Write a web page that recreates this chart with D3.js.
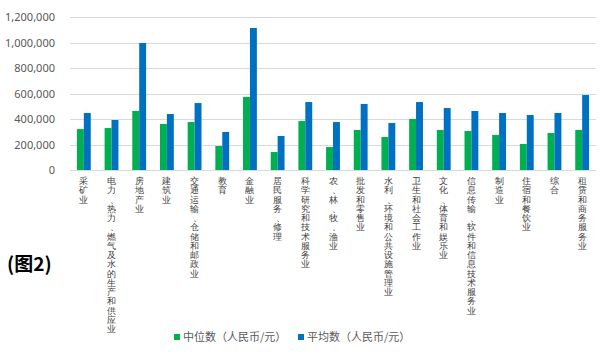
<!DOCTYPE html>
<html><head><meta charset="utf-8">
<script src="https://cdn.jsdelivr.net/npm/d3@7"></script>
<style>
body{margin:0;background:#fff;}
svg{font-family:"Noto Sans CJK SC","Noto Sans",sans-serif;}
</style></head>
<body><svg id="c" width="602" height="354"></svg>
<script>
const categories = ["采矿业","电力、热力、燃气及水的生产和供应业","房地产业","建筑业","交通运输、仓储和邮政业","教育","金融业","居民服务、修理","科学研究和技术服务业","农、林、牧、渔业","批发和零售业","水利、环境和公共设施管理业","卫生和社会工作业","文化、体育和娱乐业","信息传输、软件和信息技术服务业","制造业","住宿和餐饮业","综合","租赁和商务服务业"];
const medianValues = [321000,329000,463000,361000,376000,188000,573000,141000,384000,180000,314000,259000,400000,314000,306000,275000,204000,290000,314000];
const meanValues = [447000,392000,996000,439000,525000,298000,1114000,267000,533000,376000,518000,369000,533000,486000,463000,447000,431000,447000,588000];
const yTicks = [0,200000,400000,600000,800000,1000000,1200000];
const seriesNames = ["中位数（人民币/元）","平均数（人民币/元）"];
const colors = ["#00B050","#0070C0"];
const figLabel = "(图2)";

const svg = d3.select("#c");
const L=70, R=596, T=17, B=170;
const x = d3.scaleBand().domain(categories).range([L,R]).paddingInner(0.5).paddingOuter(0.25);
const xs = d3.scaleBand().domain([0,1]).range([0,x.bandwidth()]);
const y = d3.scaleLinear().domain([0,1200000]).range([B,T]);

// gridlines
svg.append("g").selectAll("line").data(yTicks).join("line")
  .attr("x1",L).attr("x2",R).attr("y1",d=>Math.round(y(d))+0.5).attr("y2",d=>Math.round(y(d))+0.5)
  .attr("stroke","#D9D9D9").attr("stroke-width",1);

// y axis labels
const ya = svg.append("g").attr("transform",`translate(${L},0)`)
  .call(d3.axisLeft(y).tickValues(yTicks).tickFormat(d3.format(",")).tickSize(0).tickPadding(15));
ya.select(".domain").remove();
ya.selectAll("text").attr("fill","#595959").style("font-size","11px").style("font-family","'Noto Sans','Open Sans',sans-serif");

// bars
const groups = [medianValues, meanValues];
groups.forEach((vals,si)=>{
  svg.append("g").selectAll("rect").data(vals).join("rect")
    .attr("x",(d,i)=>x(categories[i])+xs(si))
    .attr("width",xs.bandwidth())
    .attr("y",d=>y(d))
    .attr("height",d=>B-y(d))
    .attr("fill",colors[si]);
});

// x axis (labels drawn vertically, one character per line)
const xa = svg.append("g").attr("transform",`translate(0,${B})`)
  .call(d3.axisBottom(x).tickSize(0).tickFormat(""));
xa.select(".domain").attr("stroke","#D9D9D9");
const charStep = 9.25;
xa.selectAll(".tick").each(function(d){
  const g = d3.select(this);
  const chars = Array.from(d);
  g.append("text")
    .attr("fill","#404040")
    .attr("font-size","9px")
    .attr("text-anchor","middle")
    .selectAll("tspan").data(chars).join("tspan")
      .attr("x",c=>c==="、"?3:0)
      .attr("y",(c,i)=>14 + i*charStep)
      .text(c=>c);
});

// figure label
svg.append("text").attr("x",7).attr("y",271).text(figLabel)
  .attr("font-size","19px").attr("font-weight","bold").attr("fill","#000");

// legend
const leg = svg.append("g");
const legX = [174, 298];
seriesNames.forEach((n,i)=>{
  leg.append("rect").attr("x",legX[i]).attr("y",334).attr("width",6).attr("height",6).attr("fill",colors[i]);
  leg.append("text").attr("x",legX[i]+9).attr("y",341).text(n).attr("font-size","11px").attr("fill","#595959");
});
</script></body></html>
